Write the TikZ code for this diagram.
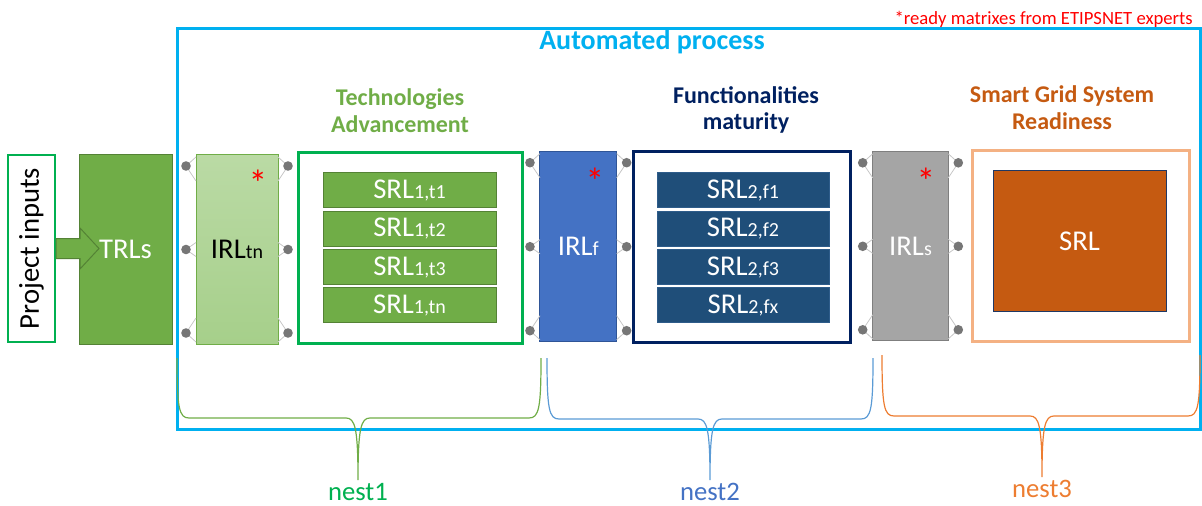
\documentclass[tikz,border=0pt]{standalone}
\usepackage{fontspec}
\setmainfont{Carlito}
\usepackage{tikz}
\usetikzlibrary{calc}
\usepackage{xcolor}
\definecolor{autoblue}{HTML}{00B0F0}
\definecolor{projgreen}{HTML}{00B050}
\definecolor{leaf}{HTML}{70AD47}
\definecolor{leafdark}{HTML}{548235}
\definecolor{leaflight}{HTML}{A9D18E}
\definecolor{irlblue}{HTML}{4472C4}
\definecolor{irlblueborder}{HTML}{2F5597}
\definecolor{navy}{HTML}{002060}
\definecolor{srlnavy}{HTML}{1F4E79}
\definecolor{srlnavyborder}{HTML}{2E5C8A}
\definecolor{irlgray}{HTML}{A5A5A5}
\definecolor{irlgrayborder}{HTML}{7F7F7F}
\definecolor{rust}{HTML}{C55A11}
\definecolor{peach}{HTML}{F4B183}
\definecolor{deepblue}{HTML}{1F3864}
\definecolor{nestblue}{HTML}{5B9BD5}
\definecolor{nestbluetext}{HTML}{4472C4}
\definecolor{nestorange}{HTML}{ED7D31}
\definecolor{pingray}{HTML}{767676}

\newcommand{\subtxt}[1]{{\fontsize{15}{15}\selectfont #1}}

\begin{document}
\begin{tikzpicture}[
  x=0.75pt, y=-0.75pt,
  font=\fontsize{21.5}{24}\selectfont,
  block/.style={draw, line width=0.75pt, inner sep=0pt, outer sep=0pt, text=white},
  frame/.style={draw, line width=2.25pt, inner sep=0pt, outer sep=0pt},
  srlone/.style={block, fill=leaf, draw=leafdark, minimum width=129.75pt, minimum height=26.25pt},
  srltwo/.style={block, fill=srlnavy, draw=srlnavyborder, minimum width=129pt, minimum height=26.25pt},
  heading/.style={font=\fontsize{18}{20}\selectfont\bfseries, align=center, inner sep=0pt},
  star/.style={text=red, inner sep=0pt, font=\fontsize{28}{28}\selectfont},
  pin/.style={fill=pingray},
  wire/.style={draw=gray!45, line width=0.6pt},
  nestbrace/.style={line width=0.9pt},
  nestlabel/.style={font=\fontsize{20}{22}\selectfont, inner sep=0pt}
]
  \useasboundingbox (0,0) rectangle (1202,506);

  % --- note and outer frame ---
  \node[text=red, inner sep=0pt, font=\fontsize{14}{16}\selectfont, anchor=east] (note) at (1193,19) {*ready matrixes from ETIPSNET experts};
  \node[frame, draw=autoblue, minimum width=767.25pt, minimum height=300.75pt] (auto) at (688.5,229) {};
  \node[font=\fontsize{21}{24}\selectfont\bfseries, text=autoblue, inner sep=0pt] (autotitle) at (652,42) {Automated process};

  % --- inputs ---
  \node[draw=projgreen, line width=1.5pt, rotate=90, minimum width=140.25pt, minimum height=35.25pt, inner sep=0pt] (proj) at (31.5,248.5) {Project inputs};
  \node[block, fill=leaf, draw=leafdark, minimum width=69.75pt, minimum height=141.75pt] (trl) at (125.5,249.5) {TRLs};
  \draw[fill=leaf, draw=leafdark, line width=0.75pt] (proj.south) ++(0,-10) -- ++(24,0) -- ++(0,-10.5) -- ++(19,20.5) -- ++(-19,20.5) -- ++(0,-10.5) -- ++(-24,0) -- cycle;

  % --- nest 1: technologies ---
  \node[block, draw=leaf, top color=leaflight!80!white, bottom color=leaflight!95!leaf, text=black, minimum width=61.5pt, minimum height=141.75pt] (irlt) at (237,249.5) {IRL\subtxt{tn}};
  \node[star] (irltstar) at (258,183) {*};
  \node[heading, text=leaf] (techhead) at (400,111) {Technologies\\Advancement};
  \node[frame, draw=projgreen, minimum width=168pt, minimum height=142.5pt] (tech) at (410,248) {};
  \foreach \i/\s/\y in {1/t1/190,2/t2/228.5,3/t3/267,4/tn/305}
    \node[srlone] (srl1-\i) at (409.5,\y) {SRL\subtxt{1,\s}};

  % --- nest 2: functionalities ---
  \node[block, fill=irlblue, draw=irlblueborder, minimum width=57.5pt, minimum height=142.5pt] (irlf) at (578.3,246.7) {IRL\subtxt{f}};
  \node[star] (irlfstar) at (595,181) {*};
  \node[heading, text=navy] (funchead) at (746,110) {Functionalities\\maturity};
  \node[frame, draw=navy, minimum width=162.75pt, minimum height=142.5pt] (func) at (741.5,247) {};
  \foreach \i/\s/\y in {1/f1/190,2/f2/228.7,3/f3/267.3,4/fx/305}
    \node[srltwo] (srl2-\i) at (743,\y) {SRL\subtxt{2,\s}};

  % --- nest 3: system readiness ---
  \node[block, fill=irlgray, draw=irlgrayborder, minimum width=56.7pt, minimum height=141.75pt] (irls) at (910.5,246.3) {IRL\subtxt{s}};
  \node[star] (irlsstar) at (926,181) {*};
  \node[heading, text=rust] (smarthead) at (1062,108) {Smart Grid System\\Readiness};
  \node[frame, draw=peach, minimum width=162.75pt, minimum height=142.5pt] (smart) at (1080.5,246) {};
  \node[block, fill=rust, draw=deepblue, minimum width=129.75pt, minimum height=105pt] (srl) at (1079.5,241) {SRL};

  % pins on the IRL blocks
  \foreach \b in {irlt,irlf,irls}{
    \foreach \side/\dx in {west/-10,east/10}{
      \path (\b.north \side) ++(\dx,11) coordinate (pa)
            (\b.\side) ++(\dx,0) coordinate (pb)
            (\b.south \side) ++(\dx,-11) coordinate (pc);
      \draw[wire] (pa) -- ($(\b.north \side)+(0,2)$) (pa) -- ($(\b.north \side)+(0,26)$)
                  (pb) -- ($(\b.\side)+(0,-7)$) (pb) -- ($(\b.\side)+(0,7)$)
                  (pc) -- ($(\b.south \side)+(0,-2)$) (pc) -- ($(\b.south \side)+(0,-26)$);
      \foreach \p in {pa,pb,pc}
        \fill[pin] (\p) circle (3.6pt);
    }
  }

  % braces
  \foreach \xa/\xb/\xt/\yt/\yb/\yp/\col/\lc [count=\n] in {177/541/358/358/418/480/leaf/projgreen, 547/873/710/358/419/480/nestblue/nestbluetext, 882/1200/1042/355/416/477/nestorange/nestorange}{
    \draw[nestbrace, draw=\col] (\xa,\yt) .. controls (\xa,\yb-10) and (\xa+2,\yb) .. (\xa+12,\yb) -- (\xt-12,\yb) .. controls (\xt-3,\yb) and (\xt,\yb+10) .. (\xt,\yp) .. controls (\xt,\yb+10) and (\xt+3,\yb) .. (\xt+12,\yb) -- (\xb-12,\yb) .. controls (\xb-2,\yb) and (\xb,\yb-10) .. (\xb,\yt);
    \node[nestlabel, text=\lc] (nest\n) at (\xt,\yp+12) {nest\n};
  }
\end{tikzpicture}
\end{document}
